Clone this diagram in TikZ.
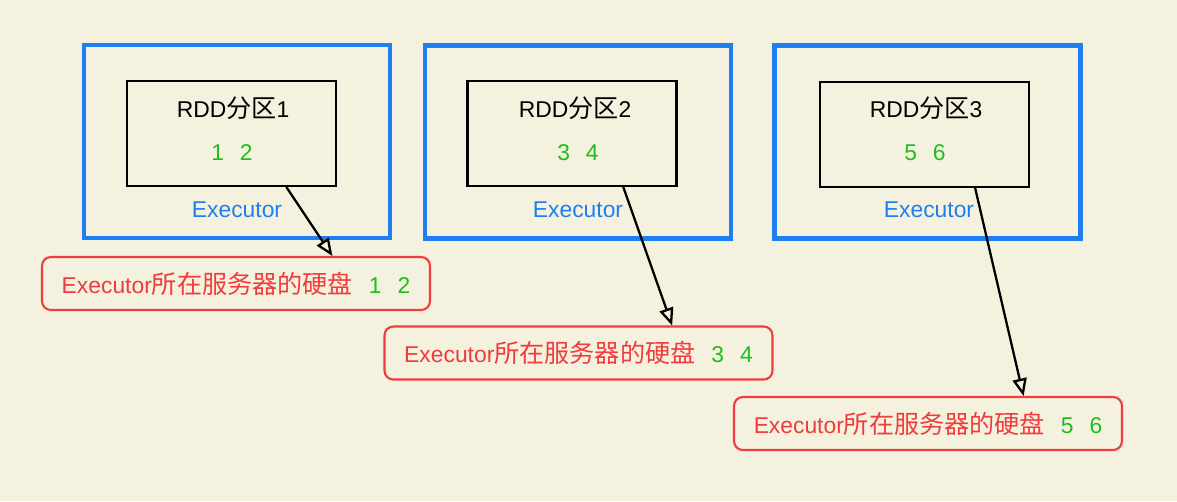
\documentclass[tikz,border=0pt]{standalone}
\usepackage{fontspec}
\setmainfont{Liberation Sans}
\newfontfamily\cjk[Scale=1.1]{Noto Sans CJK SC}
\usepackage{tikz}
\usetikzlibrary{arrows,shapes,calc}
\usetikzlibrary{positioning,fit}
\definecolor{paper}{RGB}{244,241,222}
\definecolor{exblue}{RGB}{30,128,240}
\definecolor{diskred}{RGB}{240,60,60}
\definecolor{numgreen}{RGB}{30,190,30}
\tikzstyle{exec} =
  [rectangle, draw=exblue, line width=2.6pt,
   minimum width=6.12cm, minimum height=3.86cm]
\tikzstyle{part} =
  [rectangle, draw=black, line width=1.2pt,
   minimum width=4.18cm, minimum height=2.1cm]
\tikzstyle{disk} =
  [rectangle, draw=diskred, line width=1.2pt, rounded corners=5pt,
   minimum width=7.76cm, minimum height=1.06cm, text=diskred]
\tikzstyle{arrow}=[draw,-open triangle 45,black,line width=1.3pt]
\newcommand{\nums}[2]{\textcolor{numgreen}{#1\hspace{0.7em}#2}}
\newcommand{\disktext}[2]{Executor{\cjk 所在服务器的硬盘}\hspace{0.7em}\nums{#1}{#2}}

\begin{document}
\begin{tikzpicture}[x=0.02cm, y=-0.02cm, font=\fontsize{13}{15}\selectfont]
  \fill [paper] (0,0) rectangle (1177,501);

  \node [exec] (ex1) at (237,141.5) {};
  \node [exec] (ex2) at (578,142) {};
  \node [exec] (ex3) at (927.5,142) {};

  \node [part] (p1) at (231.5,133.5) {};
  \node [part] (p2) at (572,133.5) {};
  \node [part] (p3) at (924.5,134.5) {};

  \node [] (t1) at (233,108) {RDD{\cjk 分区}1};
  \node [] (n1) at (232,153) {\nums{1}{2}};
  \node [] (t2) at (575,108) {RDD{\cjk 分区}2};
  \node [] (n2) at (578,153) {\nums{3}{4}};
  \node [] (t3) at (926,108) {RDD{\cjk 分区}3};
  \node [] (n3) at (925,153) {\nums{5}{6}};

  \node [text=exblue] (l1) at (237,210) {Executor};
  \node [text=exblue] (l2) at (578,210) {Executor};
  \node [text=exblue] (l3) at (929,210) {Executor};

  \node [disk] (d1) at (236,283.5) {\disktext{1}{2}};
  \node [disk] (d2) at (578.5,353) {\disktext{3}{4}};
  \node [disk] (d3) at (928,423.5) {\disktext{5}{6}};

  \draw [arrow] ($(p1.south west)!0.76!(p1.south east)$)
    to ($(d1.north west)!0.747!(d1.north east)$);
  \draw [arrow] ($(p2.south west)!0.743!(p2.south east)$)
    to ($(d2.north west)!0.74!(d2.north east)$);
  \draw [arrow] ($(p3.south west)!0.74!(p3.south east)$)
    to ($(d3.north west)!0.745!(d3.north east)$);
\end{tikzpicture}
\end{document}
